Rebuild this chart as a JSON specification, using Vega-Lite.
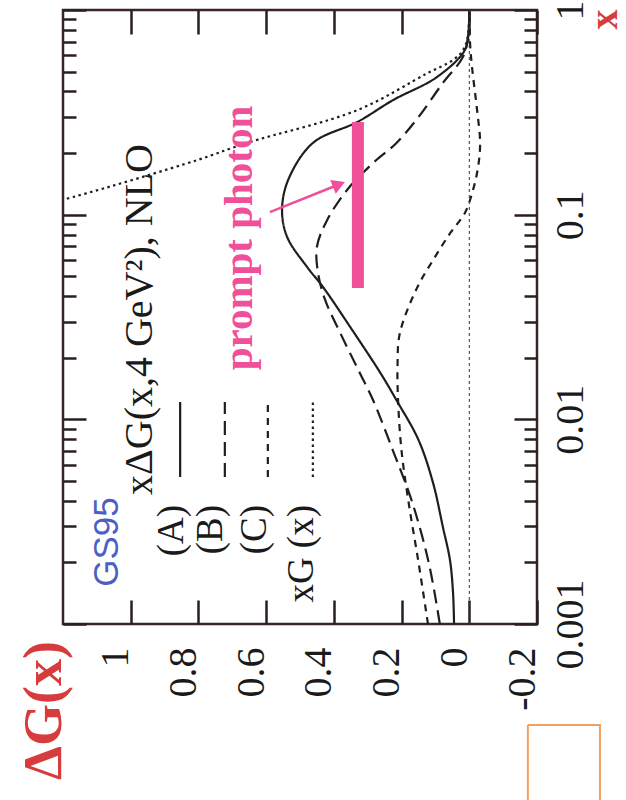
{
  "$schema": "https://vega.github.io/schema/vega-lite/v6.json",
  "width": 474,
  "height": 614,
  "autosize": {"type": "none"},
  "padding": {"left": 63, "top": 10, "right": 89, "bottom": 176},
  "background": "white",
  "config": {
    "view": {"stroke": "#3b2424", "strokeWidth": 2.5},
    "axis": {"domain": false, "grid": false}
  },
  "datasets": {
    "curves": [
      {"series": "A", "xv": 0.001, "g": 0.045},
      {"series": "A", "xv": 0.00142, "g": 0.048},
      {"series": "A", "xv": 0.00205, "g": 0.057},
      {"series": "A", "xv": 0.00298, "g": 0.078},
      {"series": "A", "xv": 0.00489, "g": 0.107},
      {"series": "A", "xv": 0.00793, "g": 0.150},
      {"series": "A", "xv": 0.0124, "g": 0.215},
      {"series": "A", "xv": 0.0168, "g": 0.262},
      {"series": "A", "xv": 0.0283, "g": 0.352},
      {"series": "A", "xv": 0.0443, "g": 0.432},
      {"series": "A", "xv": 0.0555, "g": 0.479},
      {"series": "A", "xv": 0.0778, "g": 0.538},
      {"series": "A", "xv": 0.1054, "g": 0.553},
      {"series": "A", "xv": 0.1477, "g": 0.535},
      {"series": "A", "xv": 0.224, "g": 0.462},
      {"series": "A", "xv": 0.284, "g": 0.330},
      {"series": "A", "xv": 0.363, "g": 0.225},
      {"series": "A", "xv": 0.471, "g": 0.095},
      {"series": "A", "xv": 0.638, "g": 0.013},
      {"series": "A", "xv": 0.8, "g": 0.002},
      {"series": "A", "xv": 1, "g": 0},
      {"series": "B", "xv": 0.001, "g": 0.087},
      {"series": "B", "xv": 0.002, "g": 0.12},
      {"series": "B", "xv": 0.004, "g": 0.17},
      {"series": "B", "xv": 0.007, "g": 0.225},
      {"series": "B", "xv": 0.0124, "g": 0.284},
      {"series": "B", "xv": 0.0168, "g": 0.323},
      {"series": "B", "xv": 0.0266, "g": 0.382},
      {"series": "B", "xv": 0.0384, "g": 0.426},
      {"series": "B", "xv": 0.0522, "g": 0.447},
      {"series": "B", "xv": 0.0697, "g": 0.45},
      {"series": "B", "xv": 0.094, "g": 0.42},
      {"series": "B", "xv": 0.132, "g": 0.361},
      {"series": "B", "xv": 0.179, "g": 0.284},
      {"series": "B", "xv": 0.224, "g": 0.215},
      {"series": "B", "xv": 0.3, "g": 0.15},
      {"series": "B", "xv": 0.44, "g": 0.078},
      {"series": "B", "xv": 0.589, "g": 0.019},
      {"series": "B", "xv": 0.75, "g": 0.003},
      {"series": "B", "xv": 1, "g": 0},
      {"series": "C", "xv": 0.001, "g": 0.122},
      {"series": "C", "xv": 0.002, "g": 0.15},
      {"series": "C", "xv": 0.004, "g": 0.18},
      {"series": "C", "xv": 0.007, "g": 0.2},
      {"series": "C", "xv": 0.012, "g": 0.21},
      {"series": "C", "xv": 0.018, "g": 0.212},
      {"series": "C", "xv": 0.0264, "g": 0.205},
      {"series": "C", "xv": 0.044, "g": 0.154},
      {"series": "C", "xv": 0.06, "g": 0.107},
      {"series": "C", "xv": 0.081, "g": 0.057},
      {"series": "C", "xv": 0.102, "g": 0.013},
      {"series": "C", "xv": 0.132, "g": -0.011},
      {"series": "C", "xv": 0.171, "g": -0.026},
      {"series": "C", "xv": 0.224, "g": -0.032},
      {"series": "C", "xv": 0.325, "g": -0.023},
      {"series": "C", "xv": 0.527, "g": -0.008},
      {"series": "C", "xv": 0.7, "g": -0.002},
      {"series": "C", "xv": 1, "g": 0},
      {"series": "xG", "xv": 0.08, "g": 1.6},
      {"series": "xG", "xv": 0.1, "g": 1.38},
      {"series": "xG", "xv": 0.122, "g": 1.17},
      {"series": "xG", "xv": 0.1847, "g": 0.804},
      {"series": "xG", "xv": 0.224, "g": 0.657},
      {"series": "xG", "xv": 0.325, "g": 0.329},
      {"series": "xG", "xv": 0.49, "g": 0.125},
      {"series": "xG", "xv": 0.57, "g": 0.048},
      {"series": "xG", "xv": 0.638, "g": 0.018},
      {"series": "xG", "xv": 0.75, "g": 0.004},
      {"series": "xG", "xv": 1, "g": 0}
    ],
    "zero": [{"g": 0, "xv": 0.001, "xv2": 1}],
    "bar": [{"g": 0.329, "xv": 0.0438, "xv2": 0.2836}],
    "arrow": [{"g": 0.589, "g2": 0.389, "xv": 0.103, "xv2": 0.1396}],
    "arrowhead": [{"g": 0.385, "xv": 0.1405}],
    "samples": [
      {"series": "A", "g": 0.854, "xv": 0.00523, "xv2": 0.01215},
      {"series": "B", "g": 0.722, "xv": 0.00523, "xv2": 0.01215},
      {"series": "C", "g": 0.595, "xv": 0.00523, "xv2": 0.01215},
      {"series": "xG", "g": 0.462, "xv": 0.00523, "xv2": 0.01215}
    ],
    "labels": [
      {"text": "(A)", "g": 0.878, "xv": 0.003815},
      {"text": "(B)", "g": 0.763, "xv": 0.003815},
      {"text": "(C)", "g": 0.633, "xv": 0.003815},
      {"text": "xG (x)", "g": 0.494, "xv": 0.003815}
    ],
    "heading": [{"text": "xΔG(x,4 GeV²), NLO", "g": 0.973, "xv": 0.00427}],
    "gs": [{"text": "GS95", "g": 1.07, "xv": 0.00152}],
    "pp": [{"text": "prompt photon", "g": 0.677, "xv": 0.0769}],
    "box": [
      {"ord": 1, "g": -0.173, "xv": 0.000321},
      {"ord": 2, "g": -0.386, "xv": 0.000321},
      {"ord": 3, "g": -0.386, "xv": 0.0001},
      {"ord": 4, "g": -0.173, "xv": 0.0001},
      {"ord": 5, "g": -0.173, "xv": 0.000321}
    ]
  },
  "resolve": {"axis": {"x": "independent", "y": "independent"}},
  "layer": [
    {
      "data": {"name": "curves"},
      "mark": {"type": "line", "clip": true, "color": "#1e1e1e", "strokeWidth": 2.2, "interpolate": "catmull-rom"},
      "encoding": {
        "x": {
          "field": "g", "type": "quantitative",
          "scale": {"domain": [1.2, -0.2], "nice": false, "zero": false},
          "axis": {
            "orient": "bottom",
            "values": [-0.2, 0, 0.2, 0.4, 0.6, 0.8, 1],
            "labelExpr": "'' + datum.value",
            "labelAngle": -90, "labelAlign": "right", "labelBaseline": "middle",
            "labelFont": "Liberation Serif", "labelFontSize": 40, "labelColor": "#1a1a1a",
            "labelPadding": 47, "labelOffset": -15, "labelOverlap": false, "labelFlush": false, "labelBound": false,
            "tickSize": -24, "tickWidth": 2.5, "tickColor": "#2a1f1f",
            "title": "ΔG(x)", "titleX": -19, "titleY": 86, "titleAngle": -90,
            "titleAlign": "center", "titleBaseline": "middle",
            "titleFont": "Liberation Serif", "titleFontSize": 54, "titleFontWeight": "bold", "titleColor": "#d63c3c"
          }
        },
        "y": {
          "field": "xv", "type": "quantitative",
          "scale": {"type": "log", "domain": [0.001, 1], "nice": false},
          "axis": {
            "orient": "right",
            "values": [0.001, 0.002, 0.003, 0.004, 0.005, 0.006, 0.007, 0.008, 0.009, 0.01, 0.02, 0.03, 0.04, 0.05, 0.06, 0.07, 0.08, 0.09, 0.1, 0.2, 0.3, 0.4, 0.5, 0.6, 0.7, 0.8, 0.9, 1],
            "labelExpr": "indexof([1, 0.1, 0.01, 0.001], datum.value) >= 0 ? '' + datum.value : ''",
            "labelAngle": -90, "labelAlign": "center", "labelBaseline": "top",
            "labelFont": "Liberation Serif", "labelFontSize": 40, "labelColor": "#1a1a1a",
            "labelPadding": 36, "labelOverlap": false, "labelFlush": false, "labelBound": false,
            "tickSize": {"condition": {"test": "indexof([1, 0.1, 0.01, 0.001], datum.value) >= 0", "value": -23}, "value": -13},
            "tickWidth": 2.5, "tickColor": "#2a1f1f",
            "title": "x", "titleX": 67, "titleY": 9, "titleAngle": -90,
            "titleAlign": "center", "titleBaseline": "middle",
            "titleFont": "Liberation Serif", "titleFontSize": 40, "titleFontWeight": "bold", "titleColor": "#d63c3c"
          }
        },
        "order": {"field": "xv", "type": "quantitative"},
        "strokeDash": {
          "field": "series", "type": "nominal",
          "scale": {"domain": ["A", "B", "C", "xG"], "range": [[1, 0], [14, 7], [7, 6], [2.5, 3.5]]},
          "legend": null
        }
      }
    },
    {
      "data": {"name": "zero"},
      "mark": {"type": "rule", "color": "#333", "strokeWidth": 1, "strokeDash": [3, 3]},
      "encoding": {
        "x": {
          "field": "g", "type": "quantitative",
          "scale": {"domain": [1.2, -0.2], "nice": false, "zero": false},
          "axis": {
            "orient": "top", "values": [-0.2, 0, 0.2, 0.4, 0.6, 0.8, 1],
            "labels": false, "tickSize": -24, "tickWidth": 2.5, "tickColor": "#2a1f1f", "title": null
          }
        },
        "y": {
          "field": "xv", "type": "quantitative",
          "scale": {"type": "log", "domain": [0.001, 1], "nice": false},
          "axis": {
            "orient": "left",
            "values": [0.001, 0.002, 0.003, 0.004, 0.005, 0.006, 0.007, 0.008, 0.009, 0.01, 0.02, 0.03, 0.04, 0.05, 0.06, 0.07, 0.08, 0.09, 0.1, 0.2, 0.3, 0.4, 0.5, 0.6, 0.7, 0.8, 0.9, 1],
            "labels": false,
            "tickSize": {"condition": {"test": "indexof([1, 0.1, 0.01, 0.001], datum.value) >= 0", "value": -23}, "value": -13},
            "tickWidth": 2.5, "tickColor": "#2a1f1f", "title": null
          }
        },
        "y2": {"field": "xv2"}
      }
    },
    {
      "data": {"name": "samples"},
      "mark": {"type": "rule", "color": "#1e1e1e", "strokeWidth": 2.2},
      "encoding": {
        "x": {"field": "g", "type": "quantitative", "scale": {"domain": [1.2, -0.2], "nice": false, "zero": false}, "axis": null},
        "y": {"field": "xv", "type": "quantitative", "scale": {"type": "log", "domain": [0.001, 1], "nice": false}, "axis": null},
        "y2": {"field": "xv2"},
        "strokeDash": {"field": "series", "type": "nominal", "legend": null}
      }
    },
    {
      "data": {"name": "bar"},
      "mark": {"type": "rule", "color": "#f0509a", "strokeWidth": 12},
      "encoding": {
        "x": {"field": "g", "type": "quantitative", "scale": {"domain": [1.2, -0.2], "nice": false, "zero": false}, "axis": null},
        "y": {"field": "xv", "type": "quantitative", "scale": {"type": "log", "domain": [0.001, 1], "nice": false}, "axis": null},
        "y2": {"field": "xv2"}
      }
    },
    {
      "data": {"name": "arrow"},
      "mark": {"type": "rule", "color": "#f0509a", "strokeWidth": 2.5},
      "encoding": {
        "x": {"field": "g", "type": "quantitative", "scale": {"domain": [1.2, -0.2], "nice": false, "zero": false}, "axis": null},
        "x2": {"field": "g2"},
        "y": {"field": "xv", "type": "quantitative", "scale": {"type": "log", "domain": [0.001, 1], "nice": false}, "axis": null},
        "y2": {"field": "xv2"}
      }
    },
    {
      "data": {"name": "arrowhead"},
      "mark": {"type": "point", "shape": "triangle-right", "filled": true, "color": "#f0509a", "opacity": 1, "size": 220, "angle": -22},
      "encoding": {
        "x": {"field": "g", "type": "quantitative", "scale": {"domain": [1.2, -0.2], "nice": false, "zero": false}, "axis": null},
        "y": {"field": "xv", "type": "quantitative", "scale": {"type": "log", "domain": [0.001, 1], "nice": false}, "axis": null}
      }
    },
    {
      "data": {"name": "labels"},
      "mark": {"type": "text", "angle": -90, "align": "right", "baseline": "middle", "font": "Liberation Serif", "fontSize": 37, "color": "#1a1a1a"},
      "encoding": {
        "x": {"field": "g", "type": "quantitative", "scale": {"domain": [1.2, -0.2], "nice": false, "zero": false}, "axis": null},
        "y": {"field": "xv", "type": "quantitative", "scale": {"type": "log", "domain": [0.001, 1], "nice": false}, "axis": null},
        "text": {"field": "text"}
      }
    },
    {
      "data": {"name": "heading"},
      "mark": {"type": "text", "angle": -90, "align": "left", "baseline": "middle", "font": "Liberation Serif", "fontSize": 40, "color": "#1a1a1a"},
      "encoding": {
        "x": {"field": "g", "type": "quantitative", "scale": {"domain": [1.2, -0.2], "nice": false, "zero": false}, "axis": null},
        "y": {"field": "xv", "type": "quantitative", "scale": {"type": "log", "domain": [0.001, 1], "nice": false}, "axis": null},
        "text": {"field": "text"}
      }
    },
    {
      "data": {"name": "gs"},
      "mark": {"type": "text", "angle": -90, "align": "left", "baseline": "middle", "font": "Liberation Sans", "fontSize": 35, "color": "#4b5fc4"},
      "encoding": {
        "x": {"field": "g", "type": "quantitative", "scale": {"domain": [1.2, -0.2], "nice": false, "zero": false}, "axis": null},
        "y": {"field": "xv", "type": "quantitative", "scale": {"type": "log", "domain": [0.001, 1], "nice": false}, "axis": null},
        "text": {"field": "text"}
      }
    },
    {
      "data": {"name": "pp"},
      "mark": {"type": "text", "angle": -90, "align": "center", "baseline": "middle", "font": "Liberation Serif", "fontSize": 41, "fontWeight": "bold", "color": "#f0509a"},
      "encoding": {
        "x": {"field": "g", "type": "quantitative", "scale": {"domain": [1.2, -0.2], "nice": false, "zero": false}, "axis": null},
        "y": {"field": "xv", "type": "quantitative", "scale": {"type": "log", "domain": [0.001, 1], "nice": false}, "axis": null},
        "text": {"field": "text"}
      }
    },
    {
      "data": {"name": "box"},
      "mark": {"type": "line", "color": "#f0a060", "strokeWidth": 2, "clip": false},
      "encoding": {
        "x": {"field": "g", "type": "quantitative", "scale": {"domain": [1.2, -0.2], "nice": false, "zero": false}, "axis": null},
        "y": {"field": "xv", "type": "quantitative", "scale": {"type": "log", "domain": [0.001, 1], "nice": false}, "axis": null},
        "order": {"field": "ord", "type": "quantitative"}
      }
    }
  ]
}
